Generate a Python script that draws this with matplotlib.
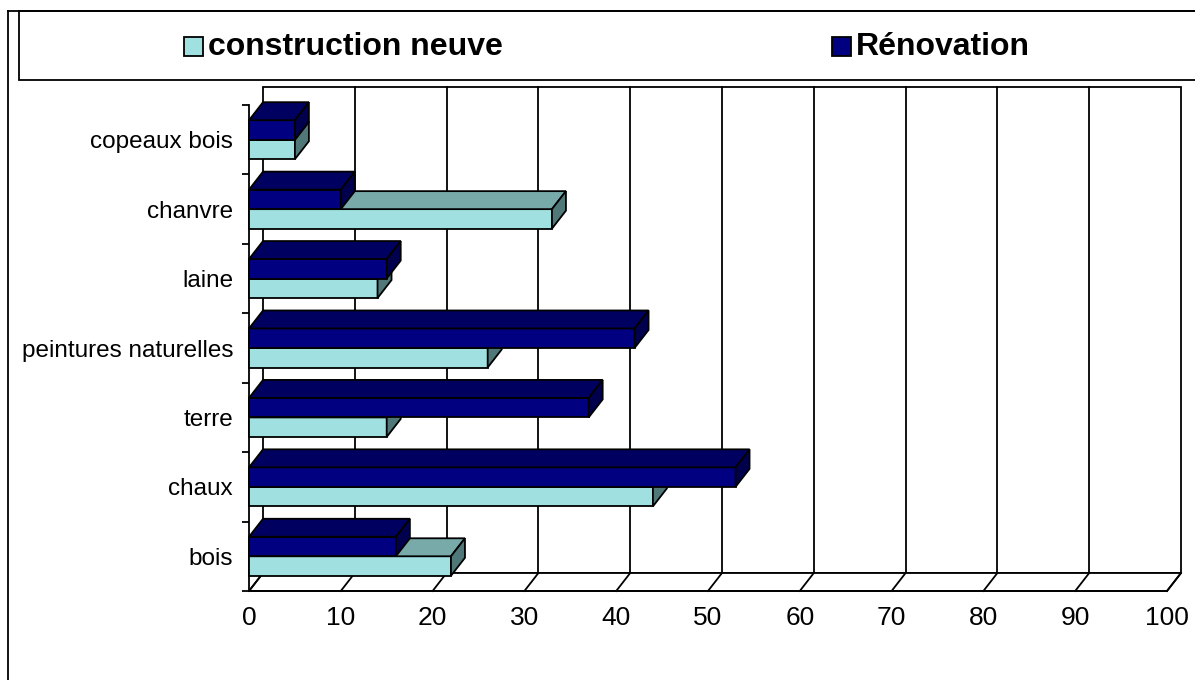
import numpy as np
import matplotlib
matplotlib.use("Agg")
import matplotlib.pyplot as plt
from matplotlib.patches import Polygon, Rectangle
from matplotlib.lines import Line2D

# data
categories = ["bois", "chaux", "terre", "peintures naturelles", "laine", "chanvre", "copeaux bois"]
construction = [22, 44, 15, 26, 14, 33, 5]
renovation = [16, 53, 37, 42, 15, 10, 5]
xticks = list(range(0, 101, 10))
series_names = ["construction neuve", "Rénovation"]

plt.rcParams['font.family'] = ['Liberation Sans', 'DejaVu Sans']

W, H = 1195, 680
fig = plt.figure(figsize=(W / 100, H / 100), dpi=100)
ax = fig.add_axes([249 / W, (H - 591) / H, 918 / W, 486 / H])
ax.set_xlim(0, 100)
ax.set_ylim(-0.5, len(categories) - 0.5)

# fake 3d depth, in data units
dx = 14 / 9.18
dy = 18 / 69.43
h = 0.281
lw = 1.3
ytop = len(categories) - 0.5

c_front, c_top, c_side = "#a0e0e0", "#78aaaa", "#507878"
r_front, r_top, r_side = "#000080", "#000060", "#00004c"

# back wall + gridlines
ax.add_patch(Rectangle((dx, -0.5 + dy), 100, len(categories), fc="white", ec="black",
                       lw=lw, zorder=1, clip_on=False))
for x in xticks[1:-1]:
    ax.plot([x + dx, x + dx], [-0.5 + dy, ytop + dy], color="black", lw=lw, zorder=1.1, clip_on=False)

# floor
ax.add_patch(Polygon([(0, -0.5), (100, -0.5), (100 + dx, -0.5 + dy), (dx, -0.5 + dy)],
                     closed=True, fc="white", ec="black", lw=lw, zorder=1.2, clip_on=False))
for x in xticks:
    ax.plot([x, x + dx], [-0.5, -0.5 + dy], color="black", lw=lw, zorder=1.3, clip_on=False)

y = np.arange(len(categories))

# front faces
ax.barh(y - h / 2, construction, height=h, color=c_front, edgecolor="black", lw=lw, zorder=3, clip_on=False)
ax.barh(y + h / 2, renovation, height=h, color=r_front, edgecolor="black", lw=lw, zorder=4, clip_on=False)

# top and side faces
for yi, vc, vr in zip(y, construction, renovation):
    ax.add_patch(Polygon([(0, yi), (vc, yi), (vc + dx, yi + dy), (dx, yi + dy)],
                         fc=c_top, ec="black", lw=lw, zorder=3, clip_on=False))
    ax.add_patch(Polygon([(vc, yi - h), (vc + dx, yi - h + dy), (vc + dx, yi + dy), (vc, yi)],
                         fc=c_side, ec="black", lw=lw, zorder=3, clip_on=False))
    ax.add_patch(Polygon([(0, yi + h), (vr, yi + h), (vr + dx, yi + h + dy), (dx, yi + h + dy)],
                         fc=r_top, ec="black", lw=lw, zorder=4, clip_on=False))
    ax.add_patch(Polygon([(vr, yi), (vr + dx, yi + dy), (vr + dx, yi + h + dy), (vr, yi + h)],
                         fc=r_side, ec="black", lw=lw, zorder=4, clip_on=False))

# axes
for s in ["top", "right"]:
    ax.spines[s].set_visible(False)
for s in ["left", "bottom"]:
    ax.spines[s].set_linewidth(lw)
ax.set_facecolor("none")
ax.set_xticks(xticks)
ax.tick_params(axis="x", length=0, pad=11, labelsize=19)
ax.set_yticks(np.arange(-0.5, len(categories), 1))
ax.set_yticklabels([])
ax.tick_params(axis="y", which="major", length=5, width=lw)
ax.set_yticks(y, minor=True)
ax.set_yticklabels(categories, minor=True)
ax.tick_params(axis="y", which="minor", length=0, pad=11.5, labelsize=17.5)

# outer frame
fig.add_artist(Line2D([8 / W, 8 / W], [0, 1 - 11 / H], color="black", lw=lw))
fig.add_artist(Line2D([8 / W, 1], [1 - 11 / H, 1 - 11 / H], color="black", lw=lw))

# legend box
fig.add_artist(Rectangle((19 / W, 1 - 80 / H), 1.0, 69 / H, transform=fig.transFigure,
                         fc="white", ec="black", lw=lw, clip_on=False))
for mx, col, name in zip([184, 832], [c_front, r_front], series_names):
    fig.add_artist(Rectangle((mx / W, 1 - 56 / H), 19 / W, 19 / H, transform=fig.transFigure,
                             fc=col, ec="black", lw=lw))
    fig.text((mx + 24) / W, 1 - 47 / H, name, fontsize=23, fontweight="bold", va="center", ha="left")

fig.savefig("out.png", dpi=100)
